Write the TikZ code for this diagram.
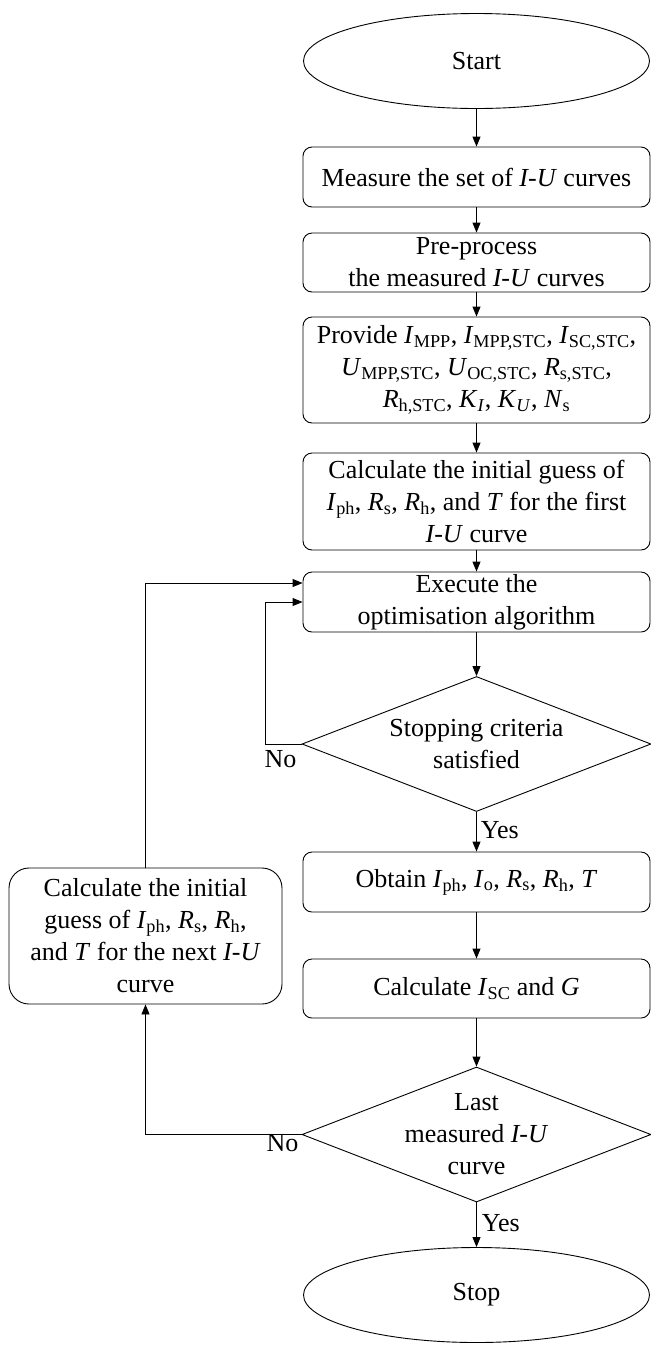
\documentclass[tikz,border=0pt]{standalone}
\usepackage{fontspec}
\setmainfont{Liberation Serif}
\usetikzlibrary{arrows.meta,shapes.geometric}
\newcommand{\vsub}[2]{\textit{#1}\textsubscript{#2}}
\begin{document}
\begin{tikzpicture}[x=1pt,y=-1pt,line width=0.9pt,
		every node/.style={font=\fontsize{26}{32}\selectfont, align=center},
		process/.style={draw, rounded corners=9pt, minimum width=347pt, inner sep=2pt},
		terminal/.style={draw, ellipse, minimum width=346pt, minimum height=95pt},
		decision/.style={draw, diamond, minimum width=349pt, minimum height=135pt, inner sep=0pt},
		answer/.style={inner sep=1pt},
		arr/.style={-{Triangle[length=10pt,width=8pt]}}]
		\useasboundingbox (0,0) rectangle (651,1345);
		% main column
		\node[terminal] (start) at (476.5,61) {Start};
		\node[process, minimum height=60pt] (measure) at (476.5,177) {Measure the set of \textit{I-U} curves};
		\node[process, minimum height=59pt] (preproc) at (476.5,262.5) {Pre-process\\the measured \textit{I-U} curves};
		\node[process, minimum height=106pt] (provide) at (476.5,370) {Provide \vsub{I}{MPP}, \vsub{I}{MPP,STC}, \vsub{I}{SC,STC},\\\vsub{U}{MPP,STC}, \vsub{U}{OC,STC}, \vsub{R}{s,STC},\\\vsub{R}{h,STC}, \vsub{K}{\textit{I}}, \vsub{K}{\textit{U}}, \vsub{N}{s}};
		\node[process, minimum height=97pt] (firstguess) at (476.5,501.5) {Calculate the initial guess of\\\vsub{I}{ph}, \vsub{R}{s}, \vsub{R}{h}, and \textit{T} for the first\\\textit{I-U} curve};
		\node[process, minimum height=60pt] (execute) at (476.5,602) {Execute the\\optimisation algorithm};
		\node[decision, label={center:Stopping criteria\\satisfied}] (criteria) at (476.5,744) {};
		\node[process, minimum height=60pt] (obtain) at (476.5,882) {Obtain \vsub{I}{ph}, \vsub{I}{o}, \vsub{R}{s}, \vsub{R}{h}, \textit{T}};
		\node[process, minimum height=59pt] (calcisc) at (476.5,988.5) {Calculate \vsub{I}{SC} and \textit{G}};
		\node[decision, label={center:Last\\measured \textit{I-U}\\curve}] (lastcurve) at (476.5,1134.5) {};
		\node[terminal] (stop) at (476.5,1295) {Stop};
		% side box
		\node[process, rounded corners=20pt, minimum width=273pt, minimum height=136pt] (nextguess) at (145.5,936) {Calculate the initial\\guess of \vsub{I}{ph}, \vsub{R}{s}, \vsub{R}{h},\\and \textit{T} for the next \textit{I-U}\\curve};
		% connectors
		\foreach \a/\b in {start/measure,measure/preproc,preproc/provide,provide/firstguess,firstguess/execute,execute/criteria,criteria/obtain,obtain/calcisc,calcisc/lastcurve,lastcurve/stop}
			\draw[arr] (\a) -- (\b);
		\node[answer, anchor=west] at ([xshift=3pt,yshift=-18pt]criteria.south) {Yes};
		\node[answer, anchor=west] at ([xshift=4pt,yshift=-21pt]lastcurve.south) {Yes};
		\draw[arr] (criteria.west) -- ++(-36,0) |- (execute.west);
		\node[answer] at ([xshift=-21pt,yshift=-15pt]criteria.west) {No};
		\draw[arr] (lastcurve.west) -| (nextguess.south);
		\node[answer] at ([xshift=-19pt,yshift=-9pt]lastcurve.west) {No};
		\draw[arr] (nextguess.north) |- ([yshift=19pt]execute.west);
	\end{tikzpicture}
\end{document}
